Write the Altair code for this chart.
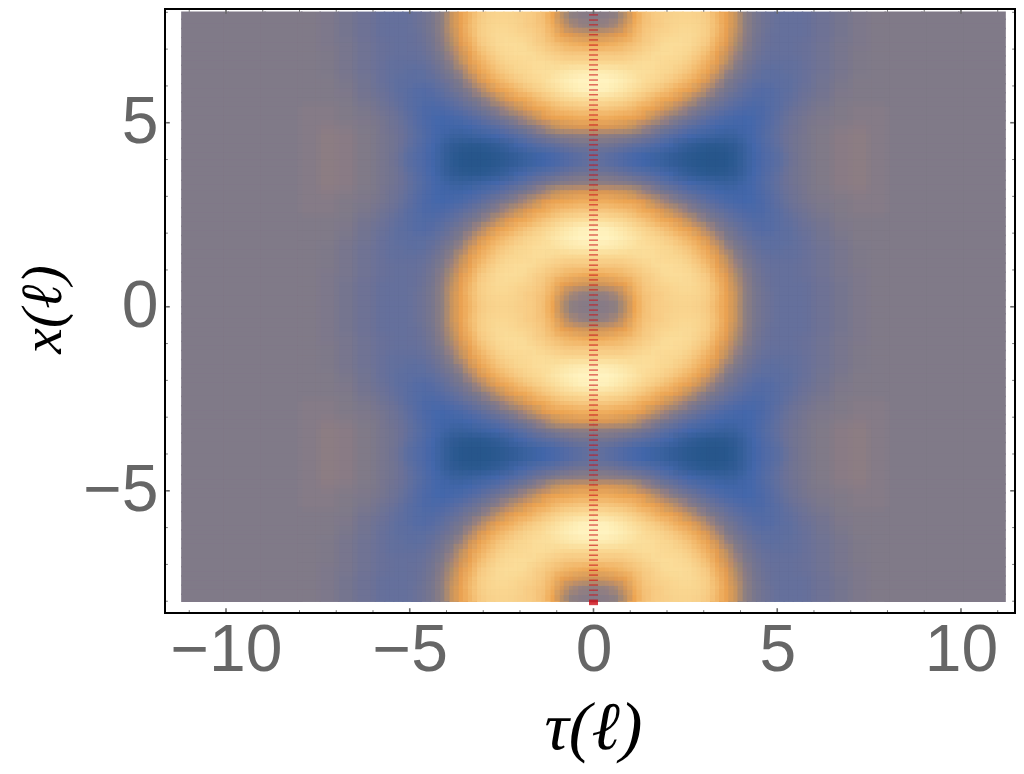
import altair as alt
import pandas as pd

alt.data_transformers.disable_max_rows()

# Cell edges of one quadrant, in axis units (tau >= 0, x from 0 to 4)
tau_edges = [0, .25, .5, .75, 1, 1.25, 1.5, 1.75, 2, 2.25, 2.5, 2.75, 3, 3.25, 3.5, 3.75, 4,
             4.25, 4.5, 4.75, 5, 5.25, 5.5, 5.75, 6, 6.5, 7, 7.5, 8, 9, 10, 11.2]
x_edges = [0, .25, .5, .75, 1, 1.25, 1.5, 1.75, 2, 2.25, 2.5, 2.75, 3, 3.25, 3.5, 3.75, 4]

# Estimated levels; the picture repeats this quadrant by reflection
levels = [
    [51,52,55,62,72,78,81,83,84,85,85,84,81,76,71,64,55,47,42,39,37,37,37,38,41,45,48,50,50,50,50],
    [55,56,59,66,74,79,81,83,85,86,86,85,82,77,71,64,55,47,42,39,37,37,37,38,41,45,48,50,50,50,50],
    [65,66,68,71,76,80,83,85,86,87,87,85,82,76,70,62,54,46,41,38,37,37,37,38,41,45,48,50,50,50,50],
    [73,74,75,77,79,82,84,87,88,88,87,84,80,74,68,60,52,45,40,38,37,37,38,39,42,46,48,50,50,50,50],
    [80,80,80,81,83,85,87,88,88,87,85,81,77,71,65,57,49,43,39,37,37,37,38,39,42,46,49,50,50,50,50],
    [86,86,86,86,87,88,88,87,86,85,82,78,74,69,62,53,46,41,37,36,36,36,37,39,42,46,49,50,50,50,50],
    [96,95,94,92,90,89,88,86,85,82,79,75,71,65,56,49,43,38,35,34,35,36,37,39,42,46,49,50,50,50,50],
    [100,100,98,95,92,88,86,84,81,78,75,71,66,58,50,44,39,35,33,33,34,35,37,39,43,47,50,50,50,50,50],
    [99,98,95,92,88,85,82,79,76,73,70,65,58,51,45,40,35,31,29,30,33,35,38,40,44,48,50,50,50,50,50],
    [89,88,87,85,82,79,76,73,71,67,62,56,50,45,39,35,31,28,28,30,33,36,39,42,45,49,50,50,50,50,50],
    [80,80,79,78,76,73,71,67,63,58,52,47,42,37,33,29,26,25,26,30,34,38,41,44,47,50,51,51,50,50,50],
    [74,74,73,72,71,68,63,58,53,48,43,38,33,29,25,23,22,23,26,31,36,40,43,46,48,50,51,51,50,50,50],
    [67,67,66,65,62,57,52,47,42,37,32,28,25,22,20,20,21,23,27,32,37,41,44,47,49,51,52,51,50,50,50],
    [54,53,52,51,48,44,40,35,30,26,22,19,17,15,14,15,19,23,28,33,38,42,45,47,50,52,53,51,50,50,50],
    [44,43,41,38,35,32,28,24,20,14,10,7,5,5,6,9,15,22,27,32,37,42,45,47,50,52,53,51,50,50,50],
    [37,34,31,27,24,21,18,15,11,8,5,3,2,2,3,7,14,21,26,30,35,41,45,47,50,52,53,51,50,50,50],
]

level_stops = [0, 15, 22, 35, 45, 50, 55, 60, 68, 72, 80, 88, 100]
level_colors = ["#245488", "#3A629F", "#4467AB", "#5F6F9F", "#75758F", "#807A88", "#8F8080",
                "#AE8D6C", "#E09A52", "#EDA552", "#F6C67E", "#FBDC98", "#FFF3C0"]

red_marks = [7.93,7.79,7.66,7.52,7.39,7.25,7.11,6.98,6.84,6.71,6.57,6.44,6.30,6.16,6.03,5.89,5.76,5.62,5.48,5.35,
             5.21,5.08,4.94,4.80,4.67,4.53,4.40,4.26,4.12,3.99,3.85,3.72,3.58,3.45,3.31,3.17,3.04,2.90,2.77,2.63,
             2.49,2.36,2.22,2.09,1.95,1.81,1.68,1.54,1.41,1.27,1.13,1.00,0.86,0.73,0.59,0.46,0.32,0.18,0.05,-0.09,
             -0.22,-0.36,-0.50,-0.63,-0.77,-0.90,-1.04,-1.18,-1.31,-1.45,-1.58,-1.72,-1.85,-1.99,-2.13,-2.26,-2.40,
             -2.53,-2.67,-2.81,-2.94,-3.08,-3.21,-3.35,-3.49,-3.62,-3.76,-3.89,-4.03,-4.17,-4.30,-4.44,-4.57,-4.71,
             -4.84,-4.98,-5.12,-5.25,-5.39,-5.52,-5.66,-5.80,-5.93,-6.07,-6.20,-6.34,-6.48,-6.61,-6.75,-6.88,-7.02,
             -7.16,-7.29,-7.43,-7.56,-7.70,-7.83,-7.97,-7.99,-8.01,-8.03,-8.05,-8.07,-8.09]

tau_major = [-10, -5, 0, 5, 10]
tau_minor = [-11, -9, -8, -7, -6, -4, -3, -2, -1, 1, 2, 3, 4, 6, 7, 8, 9, 11]
x_major = [-5, 0, 5]
x_minor = [-8, -7, -6, -4, -3, -2, -1, 1, 2, 3, 4, 6, 7, 8]

TAU_DOMAIN = [-11.66, 11.47]
X_DOMAIN = [-8.32, 8.09]
W, H = 850, 604
SHIFT = 0.0625     # half of the half-cell: the two drawings of the table sit this far either side
OVERLAP = 0.02


def base_span(lo, hi, top):
    """First drawing: opaque, slightly overlapping so that no seam shows."""
    a = lo - OVERLAP if lo == 0 else lo - SHIFT - OVERLAP
    b = top + OVERLAP if hi == top else hi - SHIFT + OVERLAP
    return a, b


def soft_span(lo, hi, top):
    """Second drawing: half transparent, half a cell further out, which softens the blocks."""
    a = lo if lo == 0 else lo + SHIFT
    return a, min(top, hi + SHIFT)


def build(span):
    recs = []
    for r, row in enumerate(levels):
        y0, y1 = span(x_edges[r], x_edges[r + 1], x_edges[-1])
        bands = [(y0, y1), (8 - y1, 8 - y0), (-y1, -y0), (y0 - 8, y1 - 8)]
        for c, lev in enumerate(row):
            t0, t1 = span(tau_edges[c], tau_edges[c + 1], tau_edges[-1])
            for a, b in bands:
                recs.append({"t0": t0, "t1": t1, "y0": a, "y1": b, "level": lev})
                recs.append({"t0": -t1, "t1": -t0, "y0": a, "y1": b, "level": lev})
    return pd.DataFrame(recs)


tau_scale = alt.Scale(domain=TAU_DOMAIN, nice=False, zero=False)
x_scale = alt.Scale(domain=X_DOMAIN, nice=False, zero=False)
level_scale = alt.Scale(domain=level_stops, range=level_colors)

minus = "replace(format(datum.value, 'd'), /[-\\u2212]/, '\\u2212')"

tau_axis = alt.Axis(values=tau_major, domain=False, ticks=False, grid=False, labelFont="Liberation Sans",
                    labelFontSize=66, labelColor="#666666", labelPadding=5, labelOverlap=False, labelFlush=False,
                    labelExpr=minus, title="τ(ℓ)", titleFont="Liberation Serif", titleFontStyle="italic",
                    titleFontWeight="normal", titleFontSize=68, titleColor="#000000", titleBaseline="alphabetic",
                    titleX=428, titleY=135, titleAlign="center")
x_axis = alt.Axis(values=x_major, domain=False, ticks=False, grid=False, labelFont="Liberation Sans",
                  labelFontSize=66, labelColor="#666666", labelPadding=7, labelOverlap=False, labelFlush=False,
                  labelExpr=minus, title="x(ℓ)", titleFont="Liberation Serif", titleFontStyle="italic",
                  titleFontWeight="normal", titleFontSize=58, titleColor="#000000", titleBaseline="alphabetic",
                  titleX=-105, titleY=300, titleAlign="center", titleAngle=270)


def heat(df, opacity):
    return alt.Chart(df).mark_rect(opacity=opacity).encode(
        x=alt.X("t0:Q", scale=tau_scale, axis=tau_axis),
        x2="t1:Q",
        y=alt.Y("y0:Q", scale=x_scale, axis=x_axis),
        y2="y1:Q",
        color=alt.Color("level:Q", scale=level_scale, legend=None),
    )


red = alt.Chart(pd.DataFrame({"m": red_marks, "t": [0.0] * len(red_marks)})).mark_tick(
    orient="horizontal", size=9, thickness=1.3, color="#cc101a"
).encode(
    x=alt.X("t:Q", scale=tau_scale, axis=tau_axis),
    y=alt.Y("m:Q", scale=x_scale, axis=x_axis),
)


def rule_v(vals, a, b, w):
    d = pd.DataFrame({"v": vals, "a": [a] * len(vals), "b": [b] * len(vals)})
    return alt.Chart(d).mark_rule(color="#666666", strokeWidth=w).encode(
        x=alt.X("v:Q", scale=tau_scale, axis=tau_axis),
        y=alt.Y("a:Q", scale=x_scale, axis=x_axis),
        y2="b:Q",
    )


def rule_h(vals, a, b, w):
    d = pd.DataFrame({"v": vals, "a": [a] * len(vals), "b": [b] * len(vals)})
    return alt.Chart(d).mark_rule(color="#666666", strokeWidth=w).encode(
        y=alt.Y("v:Q", scale=x_scale, axis=x_axis),
        x=alt.X("a:Q", scale=tau_scale, axis=tau_axis),
        x2="b:Q",
    )


marks = [
    heat(build(base_span), 1),
    heat(build(soft_span), 0.5),
    rule_v(tau_minor, -8.29, -8.245, 1),
    rule_v(tau_major, -8.29, -8.19, 1.6),
    rule_v(tau_minor, 8.06, 8.015, 1),
    rule_v(tau_major, 8.06, 7.96, 1.6),
    rule_h(x_minor, -11.63, -11.585, 1),
    rule_h(x_major, -11.63, -11.53, 1.6),
    rule_h(x_minor, 11.44, 11.395, 1),
    rule_h(x_major, 11.44, 11.34, 1.6),
    red,
]

chart = alt.layer(*marks).properties(
    width=W, height=H,
    padding={"left": 157, "top": 1, "right": 1, "bottom": 152},
    autosize=alt.AutoSizeParams(type="none"),
    background="white",
).configure_view(stroke="#000000", strokeWidth=2)

chart.save("out.html", embed_options={"renderer": "svg", "actions": False})
